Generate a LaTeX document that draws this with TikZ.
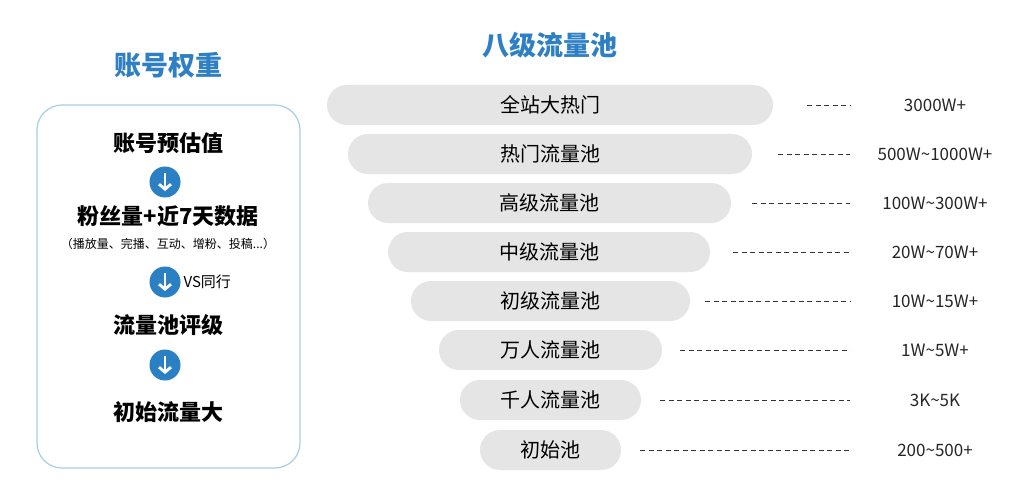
\documentclass[tikz,border=0pt]{standalone}
\usepackage{fontspec}
\setmainfont{Noto Sans CJK SC}
\usetikzlibrary{arrows.meta}
\definecolor{tblue}{HTML}{2F7FC4}
\definecolor{cblue}{HTML}{2A80C2}
\definecolor{bgray}{HTML}{E5E5E5}
\definecolor{boxb}{HTML}{A9CDE6}
\tikzset{
  bar/.style={fill=bgray, rounded corners=20pt, minimum height=40pt, inner sep=0pt, font=\fontsize{20pt}{20pt}\selectfont},
  val/.style={font=\fontsize{17pt}{17pt}\selectfont, text=black!85},
  ttl/.style={text=tblue, font=\bfseries\fontsize{27pt}{27pt}\selectfont},
  big/.style={font=\bfseries\fontsize{22pt}{22pt}\selectfont},
  circ/.style={circle, fill=cblue, minimum size=31pt, inner sep=0pt},
  dl/.style={dashed, dash pattern=on 5pt off 3.5pt, line width=0.9pt, black!80}
}
\begin{document}
\begin{tikzpicture}[x=1pt,y=-1pt]
\useasboundingbox[fill=white] (0,0) rectangle (1033,500);
\node[ttl] (t1) at (168,65) {账号权重};
\node[ttl] (t2) at (550,45) {八级流量池};
\draw[boxb, line width=1.2pt, rounded corners=25pt] (37,105) rectangle (300,468);
\node[big] (a1) at (168,143) {账号预估值};
\node[circ] (c1) at (165,182) {};
\node[big] (a2) at (168,216) {粉丝量+近7天数据};
\node[font=\fontsize{12pt}{12pt}\selectfont] (a2s) at (168,244) {（播放量、完播、互动、增粉、投稿...）};
\node[circ] (c2) at (165,282) {};
\node[font=\fontsize{15pt}{15pt}\selectfont, anchor=west] (vs) at (180,282) {VS同行};
\node[big] (a3) at (168,325) {流量池评级};
\node[circ] (c3) at (165,365) {};
\node[big] (a4) at (168,412) {初始流量大};
\foreach \c in {c1,c2,c3}{
  \draw[white, line width=2.8pt, -{Straight Barb[length=5pt,width=12pt]}] ([yshift=9pt]\c.center) -- ([yshift=-9pt]\c.center);
}
\foreach \i/\l/\r/\y/\d/\t/\v in {
 1/327/773/105/807/全站大热门/3000W+,
 2/348/752/154/778/热门流量池/500W\textasciitilde1000W+,
 3/368/731/203/752/高级流量池/100W\textasciitilde300W+,
 4/388/710/252/733/中级流量池/20W\textasciitilde70W+,
 5/411/690/301/705/初级流量池/10W\textasciitilde15W+,
 6/439/662/350/680/万人流量池/1W\textasciitilde5W+,
 7/460/641/400/660/千人流量池/3K\textasciitilde5K,
 8/480/621/450/640/初始池/200\textasciitilde500+}{
  \node[bar, minimum width={\r-\l}] (b\i) at ({(\l+\r)/2},\y) {\t};
  \node[val] (v\i) at (935,\y) {\v};
  \coordinate (d\i) at (\d,\y);
  \draw[dl] (d\i) -- (850,\y);
}
\end{tikzpicture}
\end{document}
